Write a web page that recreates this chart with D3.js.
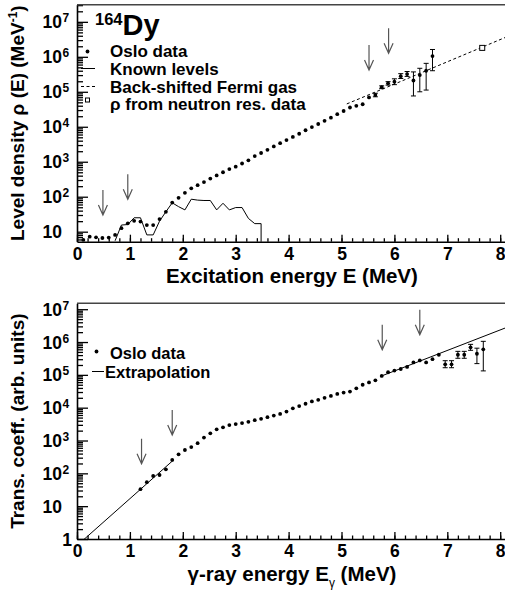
<!DOCTYPE html>
<html>
<head>
<meta charset="utf-8">
<script src="https://cdn.jsdelivr.net/npm/d3@7/dist/d3.min.js"></script>
<style>
body { margin: 0; background: #fff; }
svg { font-family: "Liberation Sans", Arial, Helvetica, sans-serif; font-weight: bold; }
</style>
</head>
<body>
<svg width="505" height="593"></svg>
<script>
// 164Dy: level density and gamma transmission coefficient (Oslo method)

// level density, Oslo data
var rhoE = [0.12, 0.24, 0.36, 0.48, 0.60, 0.72, 0.84, 0.96, 1.08, 1.20, 1.32, 1.44, 1.56, 1.68,
	1.80, 1.92, 2.04, 2.16, 2.28, 2.40, 2.52, 2.64, 2.76, 2.88, 3.00, 3.12, 3.24, 3.36, 3.48,
	3.60, 3.72, 3.84, 3.96, 4.08, 4.20, 4.32, 4.44, 4.56, 4.68, 4.80, 4.92, 5.04, 5.16, 5.28,
	5.40, 5.52, 5.64, 5.76, 5.88, 6.00, 6.12, 6.24, 6.36, 6.48, 6.60, 6.72];
var rhoVal = [5.8, 7.2, 6.9, 6.6, 6.8, 8.1, 12.6, 17.4, 20.4, 19.5, 15.5, 15.5, 22.9, 37,
	68, 93, 129, 174, 214, 263, 331, 407, 501, 617, 724, 891, 1100, 1450, 1780,
	2190, 2750, 3390, 4170, 5130, 6310, 7940, 9770, 1.2e4, 1.48e4, 1.82e4, 2.29e4, 2.82e4, 3.55e4, 3.98e4,
	4.4e4, 6.9e4, 8.1e4, 1.35e5, 1.75e5, 1.95e5, 2.8e5, 3.2e5, 2.1e5, 3.0e5, 4.0e5, 1.05e6];
var rhoErrE = [5.64, 5.76, 5.88, 6.00, 6.12, 6.24, 6.36, 6.48, 6.60, 6.72];
var rhoErrLo = [7.2e4, 1.23e5, 1.55e5, 1.6e5, 2.4e5, 2.75e5, 7.6e4, 1.0e5, 1.12e5, 4.0e5];
var rhoErrHi = [9.1e4, 1.48e5, 1.95e5, 2.35e5, 3.3e5, 3.8e5, 3.7e5, 4.7e5, 6.5e5, 1.62e6];

// known discrete levels
var knownE = [0.72, 0.84, 0.96, 1.08, 1.20, 1.32, 1.44, 1.56, 1.68, 1.80, 1.92, 2.04, 2.16,
	2.28, 2.40, 2.52, 2.64, 2.76, 2.88, 3.00, 3.12, 3.24, 3.36, 3.48, 3.48];
var knownRho = [5.5, 15.5, 16, 25, 25, 8.1, 8.1, 20, 37, 67, 52, 42, 85,
	80, 78, 78, 42, 65, 42, 49, 49, 24, 17, 17, 1];

// back-shifted Fermi gas
var fermiE = [5.1, 6.0, 7.0, 8.1];
var fermiRho = [4.5e4, 1.66e5, 7.2e5, 3.6e6];

// rho from neutron resonance data
var neutronE = [7.66];
var neutronRho = [1.8e6];

// fit-region arrows (tip positions)
var rhoArrowE = [0.49, 0.96, 5.52, 5.89];
var rhoArrowVal = [30, 84, 4.2e5, 1.26e6];

// transmission coefficient, Oslo data
var gsfE = [1.20, 1.32, 1.44, 1.56, 1.68, 1.80, 1.92, 2.04, 2.16, 2.28, 2.40, 2.52, 2.64, 2.76,
	2.88, 3.00, 3.12, 3.24, 3.36, 3.48, 3.60, 3.72, 3.84, 3.96, 4.08, 4.20, 4.32, 4.44, 4.56,
	4.68, 4.80, 4.92, 5.04, 5.16, 5.28, 5.40, 5.52, 5.64, 5.76, 5.88, 6.00, 6.12, 6.24, 6.36,
	6.48, 6.60, 6.72, 6.84, 6.96, 7.08, 7.20, 7.32, 7.44, 7.56, 7.68];
var gsfVal = [33, 54, 83, 89, 133, 257, 380, 515, 630, 830, 1230, 1660, 2190, 2530,
	2950, 3160, 3390, 3700, 4170, 4570, 5130, 5750, 6460, 7590, 9550, 1.12e4, 1.32e4, 1.55e4, 1.74e4,
	2.0e4, 2.29e4, 2.63e4, 2.88e4, 3.09e4, 3.9e4, 5.0e4, 5.9e4, 6.8e4, 9.3e4, 1.2e5, 1.35e5, 1.51e5, 1.74e5, 2.4e5,
	2.75e5, 2.4e5, 3.0e5, 4.1e5, 2.1e5, 2.1e5, 4.1e5, 4.1e5, 6.9e5, 4.4e5, 6.0e5];
var gsfErrE = [6.96, 7.08, 7.20, 7.32, 7.44, 7.56, 7.68];
var gsfErrLo = [1.65e5, 1.65e5, 3.2e5, 3.2e5, 5.6e5, 2.2e5, 1.32e5];
var gsfErrHi = [2.7e5, 2.7e5, 5.2e5, 5.2e5, 8.5e5, 6.5e5, 1.05e6];

// extrapolations
var extrapLowE = [0, 1.82];
var extrapLowVal = [0.63, 251];
var extrapHighE = [5.76, 8.1];
var extrapHighVal = [9.3e4, 2.7e6];

var gsfArrowE = [1.22, 1.80, 5.77, 6.48];
var gsfArrowVal = [195, 1480, 5.8e5, 1.66e6];

// axis ticks
var xTicks = [0, 1, 2, 3, 4, 5, 6, 7, 8];
var rhoTicks = [10, 1e2, 1e3, 1e4, 1e5, 1e6, 1e7];
var gsfTicks = [1, 10, 1e2, 1e3, 1e4, 1e5, 1e6, 1e7];

var svg = d3.select("svg");
var x = d3.scaleLinear().domain([0, 8.1]).range([77, 505.5]);

function zip(a, b) {
	return a.map((v, i) => [v, b[i]]);
}

function panel(opt) {
	var y = opt.y;
	var top = y.range()[1], bottom = y.range()[0];
	var g = svg.append("g");

	g.append("clipPath").attr("id", opt.id)
		.append("rect")
		.attr("x", x.range()[0]).attr("y", top)
		.attr("width", x.range()[1] - x.range()[0]).attr("height", bottom - top);

	// minor + major y ticks
	var dom = y.domain();
	var minors = [];
	for (var d = 1; d <= 1e7; d *= 10)
		for (var m = 2; m <= 9; m++)
			if (m * d >= dom[0] && m * d <= dom[1]) minors.push(m * d);

	g.append("g").attr("transform", "translate(" + x.range()[0] + ",0)")
		.call(d3.axisLeft(y).tickValues(minors).tickSize(-6).tickFormat(""))
		.call(a => a.select(".domain").remove());
	g.append("g").attr("transform", "translate(" + x.range()[0] + ",0)")
		.call(d3.axisLeft(y).tickValues(opt.yTicks).tickSize(-11).tickSizeOuter(0).tickFormat(""));

	// x ticks
	g.append("g").attr("transform", "translate(0," + bottom + ")")
		.call(d3.axisBottom(x).tickValues(d3.range(0, 8.05, 0.2)).tickSize(-3.5).tickFormat(""))
		.call(a => a.select(".domain").remove());
	var xa = g.append("g").attr("transform", "translate(0," + bottom + ")")
		.call(d3.axisBottom(x).tickValues(xTicks).tickSize(-7).tickSizeOuter(0).tickPadding(6));
	xa.selectAll("text").attr("font-size", 17.5).attr("font-family", null).attr("font-weight", "bold");

	g.selectAll(".tick line, .domain").attr("stroke", "#000").attr("stroke-width", 1.3);
	g.selectAll(".domain").attr("stroke-width", 1.6);

	// top frame line
	g.append("line")
		.attr("x1", x.range()[0]).attr("x2", x.range()[1])
		.attr("y1", top).attr("y2", top)
		.attr("stroke", "#444").attr("stroke-width", 1.6);

	// y tick labels 10^n
	var lab = g.append("g").attr("font-size", 17.5);
	opt.yTicks.forEach(v => {
		var n = Math.round(Math.log10(v));
		var yy = y(v);
		if (n == 0) {
			lab.append("text").attr("x", 72).attr("y", yy + 7).attr("text-anchor", "end").text("1");
			return;
		}
		lab.append("text").attr("x", 62).attr("y", yy + 6.5).attr("text-anchor", "end").text("10");
		if (n > 1)
			lab.append("text").attr("x", 62.5).attr("y", yy + 0.5)
				.attr("font-size", 12).text(n);
	});

	// axis titles
	g.append("text")
		.attr("transform", "translate(24," + (top + bottom) / 2 + ") rotate(-90)")
		.attr("text-anchor", "middle").attr("font-size", 19)
		.call(opt.yTitle);
	g.append("text")
		.attr("x", 292).attr("y", opt.xTitleY)
		.attr("text-anchor", "middle").attr("font-size", 20.5)
		.call(opt.xTitle);

	var plot = g.append("g").attr("clip-path", "url(#" + opt.id + ")");

	// arrows
	zip(opt.arrowE, opt.arrowVal).forEach(a => {
		var ax = x(a[0]), ay = y(a[1]);
		plot.append("path")
			.attr("d", "M" + ax + "," + (ay - 25) + "V" + ay +
				"M" + (ax - 4.5) + "," + (ay - 10) + "L" + ax + "," + ay + "L" + (ax + 4.5) + "," + (ay - 10))
			.attr("fill", "none").attr("stroke", "#555").attr("stroke-width", 1.2);
	});

	// error bars
	var errs = opt.errE.map((e, i) => ({e: e, lo: opt.errLo[i], hi: opt.errHi[i]}));
	var eb = plot.append("g").attr("stroke", "#000").attr("stroke-width", 1);
	eb.selectAll("path").data(errs).enter().append("path")
		.attr("fill", "none")
		.attr("d", d => "M" + x(d.e) + "," + y(d.lo) + "V" + y(d.hi) +
			"M" + (x(d.e) - 2.5) + "," + y(d.lo) + "h5" +
			"M" + (x(d.e) - 2.5) + "," + y(d.hi) + "h5");

	plot.append("g").selectAll("circle")
		.data(zip(opt.dataE, opt.dataVal))
		.enter().append("circle")
		.attr("cx", d => x(d[0])).attr("cy", d => y(d[1]))
		.attr("r", 1.9).attr("fill", "#000");

	return {g: g, plot: plot};
}

var yTop = d3.scaleLog().domain([Math.pow(10, 0.714), Math.pow(10, 7.49)]).range([241.7, 4.7]);
var yBot = d3.scaleLog().domain([1, Math.pow(10, 7.18)]).range([539, 303.3]);

var line = y => d3.line().x(d => x(d[0])).y(d => y(d[1]));

// ---- top panel: level density
var p1 = panel({
	id: "clipTop", y: yTop, yTicks: rhoTicks,
	dataE: rhoE, dataVal: rhoVal, errE: rhoErrE, errLo: rhoErrLo, errHi: rhoErrHi,
	arrowE: rhoArrowE, arrowVal: rhoArrowVal, xTitleY: 283,
	yTitle: t => {
		t.append("tspan").text("Level density \u03c1 (E) (MeV");
		t.append("tspan").attr("dy", -7).attr("font-size", 12).text("-1");
		t.append("tspan").attr("dy", 7).text(")");
	},
	xTitle: t => t.text("Excitation energy E (MeV)")
});

p1.plot.append("path").datum(zip(knownE, knownRho))
	.attr("d", line(yTop)).attr("fill", "none").attr("stroke", "#000").attr("stroke-width", 1);
p1.plot.append("path").datum(zip(fermiE, fermiRho))
	.attr("d", line(yTop)).attr("fill", "none").attr("stroke", "#000")
	.attr("stroke-width", 1).attr("stroke-dasharray", "3,2.5");
p1.plot.selectAll("rect.nres").data(zip(neutronE, neutronRho)).enter().append("rect")
	.attr("class", "nres")
	.attr("x", d => x(d[0]) - 2.5).attr("y", d => yTop(d[1]) - 2.5)
	.attr("width", 5).attr("height", 5)
	.attr("fill", "#fff").attr("stroke", "#000").attr("stroke-width", 1);

// nucleus label
var nuc = p1.g.append("text").attr("x", 95).attr("y", 35);
nuc.append("tspan").attr("font-size", 16.5).attr("dy", -10).text("164");
nuc.append("tspan").attr("font-size", 29).attr("dy", 10).text("Dy");

// legend
var leg1 = p1.g.append("g").attr("font-size", 17);
leg1.append("circle").attr("cx", 87.5).attr("cy", 51.5).attr("r", 1.9);
leg1.append("text").attr("x", 110).attr("y", 57).text("Oslo data");
leg1.append("line").attr("x1", 81).attr("x2", 95).attr("y1", 68.5).attr("y2", 68.5)
	.attr("stroke", "#000");
leg1.append("text").attr("x", 110).attr("y", 75).text("Known levels");
leg1.append("line").attr("x1", 81).attr("x2", 97).attr("y1", 86.5).attr("y2", 86.5)
	.attr("stroke", "#000").attr("stroke-dasharray", "3,2.5");
leg1.append("text").attr("x", 110).attr("y", 92.5).text("Back-shifted Fermi gas");
leg1.append("rect").attr("x", 85.5).attr("y", 98).attr("width", 4).attr("height", 4)
	.attr("fill", "#fff").attr("stroke", "#000");
leg1.append("text").attr("x", 110).attr("y", 110).text("\u03c1 from neutron res. data");

// ---- bottom panel: transmission coefficient
var p2 = panel({
	id: "clipBot", y: yBot, yTicks: gsfTicks,
	dataE: gsfE, dataVal: gsfVal, errE: gsfErrE, errLo: gsfErrLo, errHi: gsfErrHi,
	arrowE: gsfArrowE, arrowVal: gsfArrowVal, xTitleY: 581,
	yTitle: t => t.text("Trans. coeff. (arb. units)"),
	xTitle: t => {
		t.append("tspan").text("\u03b3-ray energy E");
		t.append("tspan").attr("dy", 6).attr("font-size", 12).attr("font-weight", "normal").text("\u03b3");
		t.append("tspan").attr("dy", -6).text(" (MeV)");
	}
});

[zip(extrapLowE, extrapLowVal), zip(extrapHighE, extrapHighVal)].forEach(seg => {
	p2.plot.append("path").datum(seg)
		.attr("d", line(yBot)).attr("fill", "none").attr("stroke", "#000").attr("stroke-width", 1);
});

var leg2 = p2.g.append("g").attr("font-size", 16.5);
leg2.append("circle").attr("cx", 96.5).attr("cy", 351.5).attr("r", 1.9);
leg2.append("text").attr("x", 110).attr("y", 358.5).text("Oslo data");
leg2.append("line").attr("x1", 92).attr("x2", 104).attr("y1", 371.5).attr("y2", 371.5)
	.attr("stroke", "#000");
leg2.append("text").attr("x", 105).attr("y", 377.5).text("Extrapolation");
</script>
</body>
</html>
